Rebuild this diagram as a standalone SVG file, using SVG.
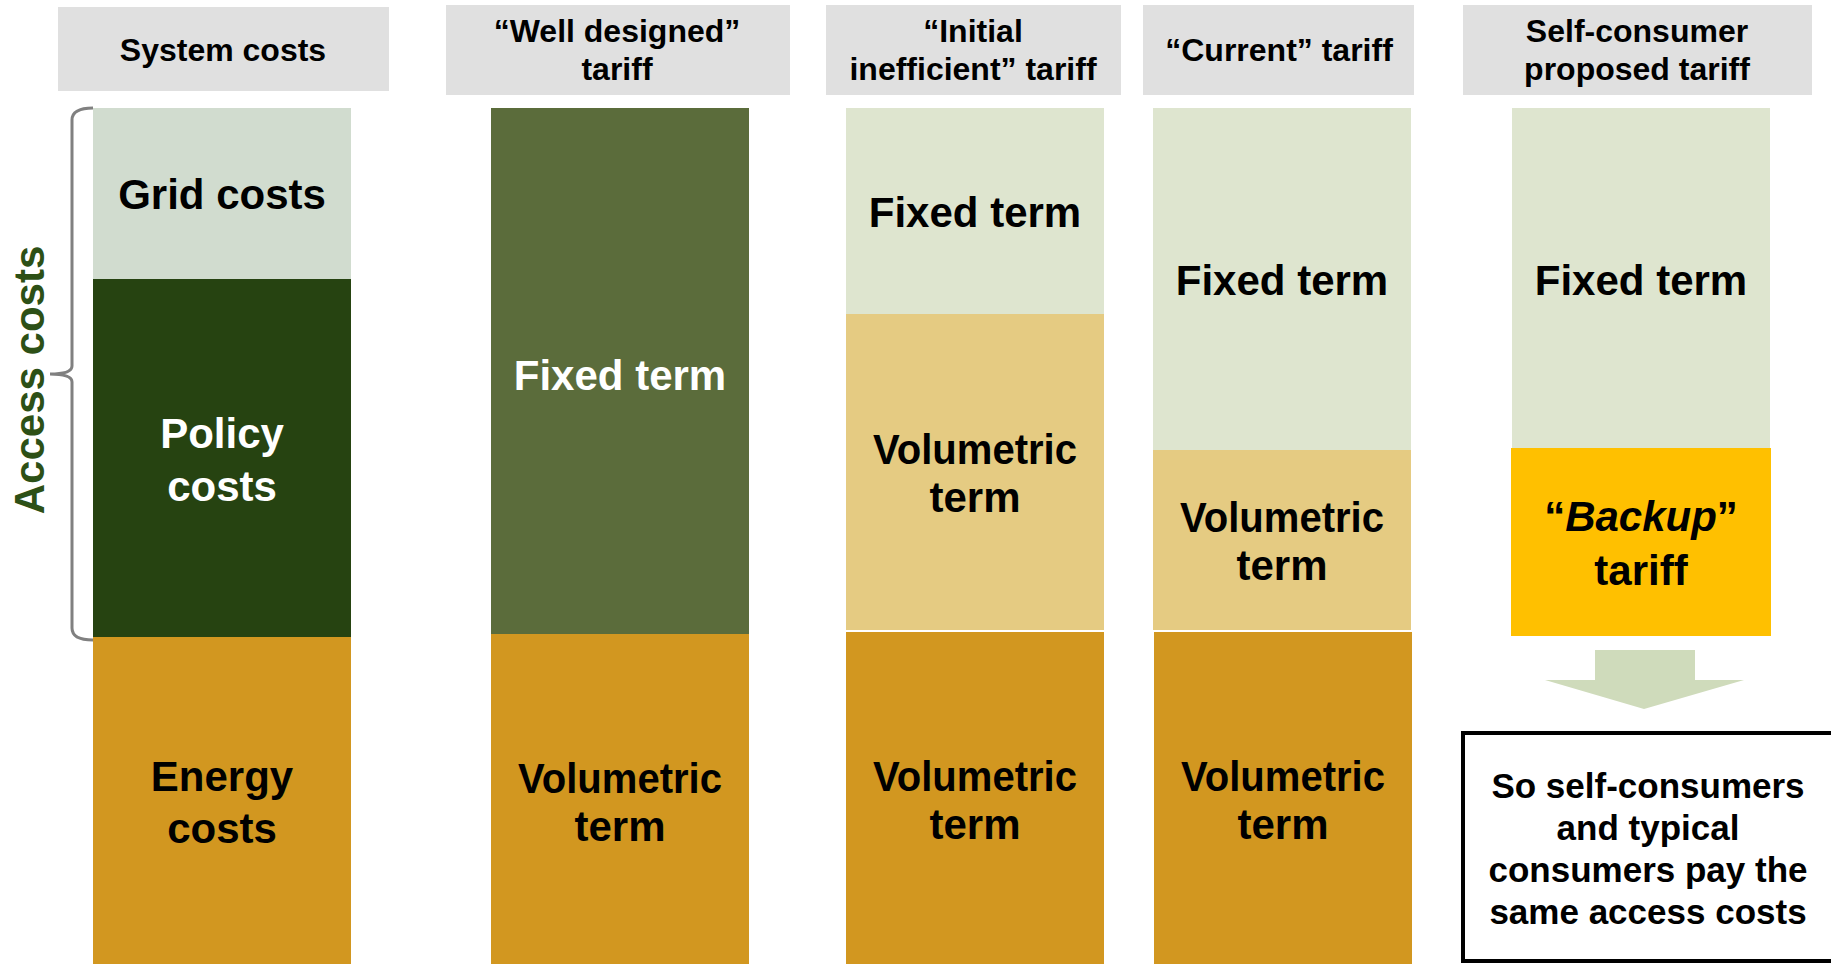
<svg xmlns="http://www.w3.org/2000/svg" width="1831" height="964" viewBox="0 0 1831 964">
  <style>
    text { font-family: "Liberation Sans", Arial, sans-serif; font-weight: bold; text-anchor: middle; fill: #000; }
    .hdr { fill: #e0e0e0; }
    .hd { font-size: 32px; }
    .big { font-size: 42px; }
    .wt { fill: #fff; }
    .grid { fill: #d1dccf; }
    .policy { fill: #264311; }
    .energy { fill: #d29720; }
    .fixdark { fill: #5b6c3b; }
    .fixlight { fill: #dee5cf; }
    .vollight { fill: #e5cb82; }
    .backup { fill: #ffc000; }
    .note { font-size: 35px; }
  </style>

  <!-- column headers -->
  <g id="header-system">
    <rect class="hdr" x="58" y="7" width="331" height="84"/>
    <text class="hd" x="223" y="61">System costs</text>
  </g>
  <g id="header-well">
    <rect class="hdr" x="446" y="5" width="344" height="90"/>
    <text class="hd" x="617" y="42">“Well designed”</text>
    <text class="hd" x="617" y="80">tariff</text>
  </g>
  <g id="header-initial">
    <rect class="hdr" x="826" y="5" width="295" height="90"/>
    <text class="hd" x="973" y="42">“Initial</text>
    <text class="hd" x="973" y="80">inefficient” tariff</text>
  </g>
  <g id="header-current">
    <rect class="hdr" x="1143" y="5" width="271" height="90"/>
    <text class="hd" x="1279" y="61">“Current” tariff</text>
  </g>
  <g id="header-self">
    <rect class="hdr" x="1463" y="5" width="349" height="90"/>
    <text class="hd" x="1637" y="42">Self-consumer</text>
    <text class="hd" x="1637" y="80">proposed tariff</text>
  </g>

  <!-- system costs stack -->
  <g id="col-system">
    <rect class="grid" x="93" y="108" width="258" height="171"/>
    <text class="big" x="222" y="209">Grid costs</text>
    <rect class="policy" x="93" y="279" width="258" height="358"/>
    <text class="big wt" x="222" y="448">Policy</text>
    <text class="big wt" x="222" y="501">costs</text>
    <rect class="energy" x="93" y="637" width="258" height="327"/>
    <text class="big" x="222" y="791">Energy</text>
    <text class="big" x="222" y="843">costs</text>
  </g>

  <!-- access costs brace and label -->
  <g id="access-costs">
    <path d="M93,108 Q72,108 72,120 L72,366 Q72,374 50,374 Q72,374 72,382 L72,628 Q72,640 93,640" fill="none" stroke="#808080" stroke-width="3"/>
    <text class="big" x="44" y="380" style="fill:#2d5016" transform="rotate(-90 44 380)">Access costs</text>
  </g>

  <!-- well designed tariff -->
  <g id="col-well">
    <rect class="fixdark" x="491" y="108" width="258" height="526"/>
    <text class="big wt" x="620" y="390">Fixed term</text>
    <rect class="energy" x="491" y="634" width="258" height="330"/>
    <text class="big" x="620" y="793" textLength="204" lengthAdjust="spacingAndGlyphs">Volumetric</text>
    <text class="big" x="620" y="841">term</text>
  </g>

  <!-- initial inefficient tariff -->
  <g id="col-initial">
    <rect class="fixlight" x="846" y="108" width="258" height="206"/>
    <text class="big" x="975" y="227">Fixed term</text>
    <rect class="vollight" x="846" y="314" width="258" height="316"/>
    <text class="big" x="975" y="464" textLength="204" lengthAdjust="spacingAndGlyphs">Volumetric</text>
    <text class="big" x="975" y="512">term</text>
    <rect class="energy" x="846" y="632" width="258" height="332"/>
    <text class="big" x="975" y="791" textLength="204" lengthAdjust="spacingAndGlyphs">Volumetric</text>
    <text class="big" x="975" y="839">term</text>
  </g>

  <!-- current tariff -->
  <g id="col-current">
    <rect class="fixlight" x="1153" y="108" width="258" height="342"/>
    <text class="big" x="1282" y="295">Fixed term</text>
    <rect class="vollight" x="1153" y="450" width="258" height="180"/>
    <text class="big" x="1282" y="532" textLength="204" lengthAdjust="spacingAndGlyphs">Volumetric</text>
    <text class="big" x="1282" y="580">term</text>
    <rect class="energy" x="1154" y="632" width="258" height="332"/>
    <text class="big" x="1283" y="791" textLength="204" lengthAdjust="spacingAndGlyphs">Volumetric</text>
    <text class="big" x="1283" y="839">term</text>
  </g>

  <!-- self-consumer proposed tariff -->
  <g id="col-self">
    <rect class="fixlight" x="1512" y="108" width="258" height="341"/>
    <text class="big" x="1641" y="295">Fixed term</text>
    <rect class="backup" x="1511" y="448" width="260" height="188"/>
    <text class="big" x="1641" y="531">“<tspan font-style="italic">Backup</tspan>”</text>
    <text class="big" x="1641" y="585">tariff</text>
  </g>

  <!-- connectors -->
  <g id="connectors">
    <polygon points="1595,650 1695,650 1695,680 1744,680 1644,709 1545,680 1595,680" fill="#cfdbbb"/>
  </g>

  <!-- conclusion note -->
  <g id="note">
    <rect x="1463" y="733" width="400" height="228" fill="#fff" stroke="#000" stroke-width="4"/>
    <text class="note" x="1648" y="798">So self-consumers</text>
    <text class="note" x="1648" y="840">and typical</text>
    <text class="note" x="1648" y="882">consumers pay the</text>
    <text class="note" x="1648" y="924">same access costs</text>
  </g>
</svg>
